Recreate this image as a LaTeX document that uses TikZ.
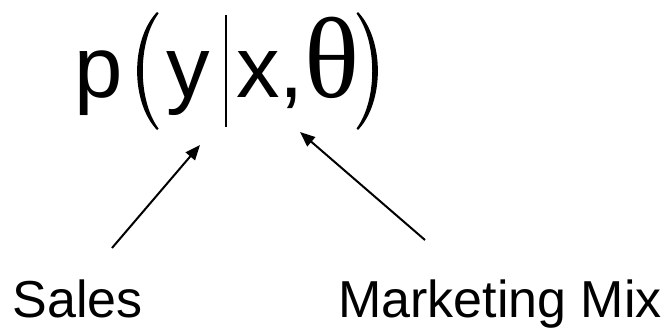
\documentclass[tikz,border=0pt]{standalone}
\usepackage{fontspec}
\setmainfont{Liberation Sans}
\newfontfamily\serifgreek{Liberation Serif}
\usetikzlibrary{arrows.meta}
\begin{document}
\begin{tikzpicture}[x=1pt,y=-1pt,
  glyph/.style={inner sep=0pt,anchor=base,font=\fontsize{87}{100}\selectfont},
  label/.style={inner sep=0pt,font=\fontsize{52}{60}\selectfont},
  pointer/.style={line width=2pt,-{Triangle[length=15pt,width=12pt]}},
  paren/.style={fill=black,draw=none}]
\useasboundingbox (0,0) rectangle (672,329);
% formula glyphs
\node[glyph] (p) at (99,97) {p};
\node[glyph] (y) at (188,97) {y};
\node[glyph] (x) at (258,97) {x};
\node[glyph] (comma) at (292,97) {,};
\node[glyph,font=\serifgreek\fontsize{115}{120}\selectfont] (theta) at (332,97) {θ};
% stretched parentheses
\fill[paren] (157,12) .. controls (130.5,40) and (130.5,102) .. (157,130)
  -- (158.5,128.5) .. controls (137.5,100) and (137.5,42) .. (158.5,13.5) -- cycle;
\fill[paren] (358,12) .. controls (384.5,40) and (384.5,102) .. (358,130)
  -- (356.5,128.5) .. controls (377.5,100) and (377.5,42) .. (356.5,13.5) -- cycle;
% conditioning bar
\coordinate (bartop) at (226,15);
\coordinate (barbot) at (226,127);
\draw[line width=2pt] (bartop) -- (barbot);
% labels
\node[label,anchor=base west] (sales) at (12.5,317) {Sales};
\node[label,anchor=base east] (mix) at (662,317) {Marketing Mix};
% arrows
\coordinate (s0) at (112,248);
\coordinate (s1) at (200,145);
\coordinate (m0) at (425,240);
\coordinate (m1) at (300,132);
\draw[pointer] (s0) -- (s1);
\draw[pointer] (m0) -- (m1);
\end{tikzpicture}
\end{document}
